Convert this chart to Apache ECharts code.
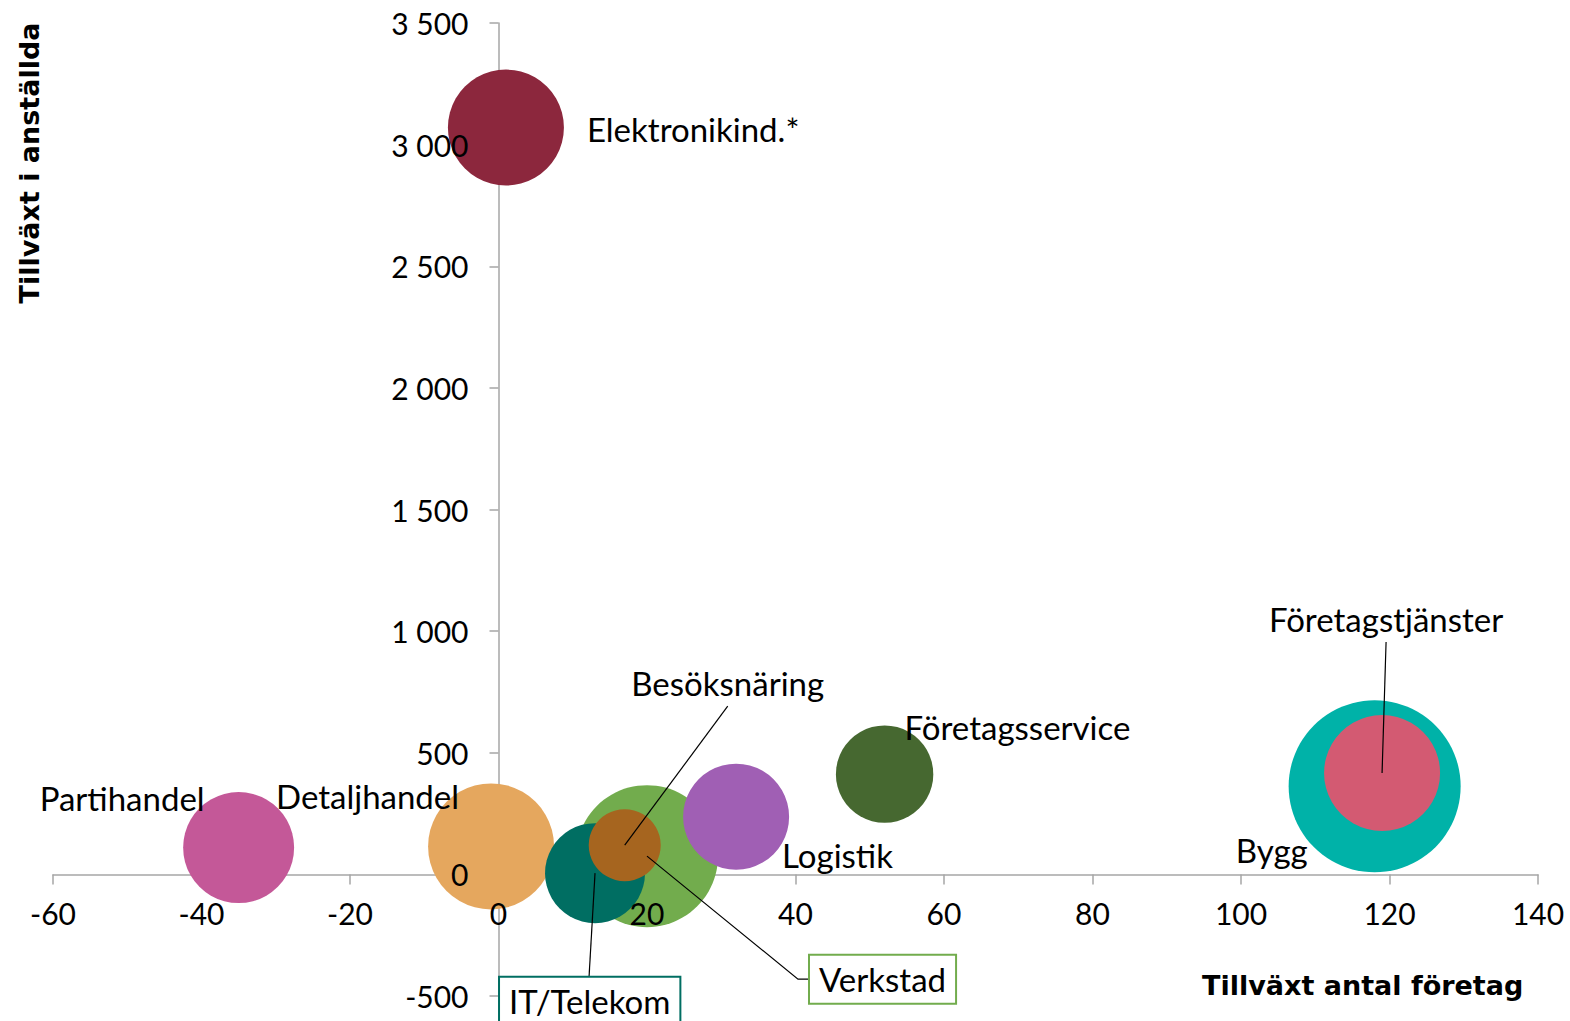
<!DOCTYPE html>
<html>
<head>
<meta charset="utf-8">
<script src="https://cdn.jsdelivr.net/npm/echarts@6/dist/echarts.min.js"></script>
<style>
html,body{margin:0;padding:0;background:#fff;}
#chart{width:1570px;height:1021px;}
</style>
</head>
<body>
<div id="chart"></div>
<script>
// ---- data ----
const names = ['Elektronikind.*','Partihandel','Detaljhandel','Verkstad','IT/Telekom','Besöksnäring','Logistik','Företagsservice','Bygg','Företagstjänster'];
const growthCompanies = [1, -35, -1, 20, 13, 17, 32, 52, 118, 119];
const growthEmployees = [3070, 110, 115, 75, 5, 120, 237, 412, 362, 417];
const bubbleSize = [3364, 3080, 3969, 5041, 2500, 1296, 2809, 2372, 7396, 3364];
const xTicks = [-60, -40, -20, 0, 20, 40, 60, 80, 100, 120, 140];
const yTicks = [-500, 0, 500, 1000, 1500, 2000, 2500, 3000, 3500];
const xTitle = 'Tillväxt antal företag';
const yTitle = 'Tillväxt i anställda';

// ---- styles / layout ----
const colors = ['#8C273D','#C45898','#E5A75E','#72AC4D','#006E62','#A6651F','#A05FB4','#466830','#00B2A8','#D35A72'];
const FONT = 'Lato';
const TITLE_FONT = 'DejaVu Sans';
const W = 1570, H = 1021;
const G = {left: 53, right: 32, top: 23, bottom: 25};
const labelLayout = {
  'Elektronikind.*': {dx: 81, dy: 1, align: 'left'},
  'Partihandel': {dx: -34, dy: -50, align: 'right'},
  'Detaljhandel': {dx: -32, dy: -50, align: 'right'},
  'Verkstad': {dx: 163, dy: 123, align: 'left', box: '#72AC4D', leader: [[151, 123], [163, 123]]},
  'IT/Telekom': {dx: -95, dy: 128, align: 'left', box: '#006E62', leader: [[-6, 104]]},
  'Besöksnäring': {dx: 103, dy: -162, align: 'center', leader: [[103, -139]]},
  'Logistik': {dx: 46, dy: 38, align: 'left'},
  'Företagsservice': {dx: 20, dy: -47, align: 'left'},
  'Bygg': {dx: -67, dy: 64, align: 'right'},
  'Företagstjänster': {dx: 4, dy: -154, align: 'center', leader: [[4, -131]]}
};

const fmt = v => {
  const s = String(Math.abs(v));
  const out = s.length > 3 ? s.slice(0, s.length - 3) + ' ' + s.slice(-3) : s;
  return (v < 0 ? '-' : '') + out;
};

const xMin = xTicks[0], xMax = xTicks[xTicks.length - 1];
const yMin = yTicks[0], yMax = yTicks[yTicks.length - 1];
const plotW = W - G.left - G.right, plotH = H - G.top - G.bottom;
// place axes through zero (labels follow the axis lines)
const xAxisOffset = -plotH * (0 - yMin) / (yMax - yMin);
const yAxisOffset = -plotW * (0 - xMin) / (xMax - xMin);

const chart = echarts.init(document.getElementById('chart'), null, {renderer: 'svg'});

const bubbleData = names.map((n, i) => ({
  name: n,
  value: [growthCompanies[i], growthEmployees[i], bubbleSize[i]],
  itemStyle: {color: colors[i]}
}));
const labelData = names.map((n, i) => [growthCompanies[i], growthEmployees[i]]);

function renderLabel(params, api) {
  const i = params.dataIndex;
  const c = api.coord([api.value(0), api.value(1)]);
  const L = labelLayout[names[i]];
  const children = [];
  if (L.leader) {
    const pts = [[c[0], c[1]]].concat(L.leader.map(p => [c[0] + p[0], c[1] + p[1]]));
    children.push({type: 'polyline', shape: {points: pts}, style: {stroke: '#000', lineWidth: 1.2, fill: null}});
  }
  const st = {
    text: names[i], fontSize: 33, fontFamily: FONT, fill: '#000',
    align: L.align, verticalAlign: 'middle'
  };
  if (L.box) {
    st.borderColor = L.box; st.borderWidth = 2; st.backgroundColor = '#fff';
    st.padding = [7, 9, 7, 9];
  }
  children.push({type: 'text', x: c[0] + L.dx, y: c[1] + L.dy, style: st});
  return {type: 'group', children};
}

const axisColor = '#A6A6A6';
const xBase = {
  type: 'value', min: xMin, max: xMax, interval: 20, position: 'bottom',
  offset: xAxisOffset, splitLine: {show: false}
};
const yBase = {
  type: 'value', min: yMin, max: yMax, interval: 500, position: 'left',
  offset: yAxisOffset, splitLine: {show: false}
};
chart.setOption({
  animation: false,
  backgroundColor: '#fff',
  grid: {left: G.left, right: G.right, top: G.top, bottom: G.bottom, containLabel: false, outerBoundsMode: 'none'},
  xAxis: [
    Object.assign({}, xBase, {
      z: 0,
      axisLine: {onZero: false, lineStyle: {color: axisColor, width: 1.5}},
      axisTick: {show: true, length: 10, lineStyle: {color: axisColor, width: 1.5}},
      axisLabel: {show: false}
    }),
    Object.assign({}, xBase, {
      z: 10,
      axisLine: {show: false, onZero: false},
      axisTick: {show: false},
      axisLabel: {color: '#000', fontSize: 30, fontFamily: FONT, margin: 24}
    })
  ],
  yAxis: [
    Object.assign({}, yBase, {
      z: 0,
      axisLine: {onZero: false, lineStyle: {color: axisColor, width: 1.5}},
      axisTick: {show: true, length: 9, lineStyle: {color: axisColor, width: 1.5}},
      axisLabel: {show: false}
    }),
    Object.assign({}, yBase, {
      z: 10,
      axisLine: {show: false, onZero: false},
      axisTick: {show: false},
      axisLabel: {color: '#000', fontSize: 30, fontFamily: FONT, margin: 30, formatter: fmt}
    })
  ],
  graphic: [
    {type: 'text', x: 29, y: 163, rotation: Math.PI / 2,
     style: {text: yTitle, fontSize: 27, fontWeight: 'bold', fontFamily: TITLE_FONT, fill: '#000', align: 'center', verticalAlign: 'middle'}},
    {type: 'text', x: 1202, y: 985,
     style: {text: xTitle, fontSize: 27, fontWeight: 'bold', fontFamily: TITLE_FONT, fill: '#000', align: 'left', verticalAlign: 'middle'}}
  ],
  series: [
    {
      type: 'scatter',
      xAxisIndex: 0, yAxisIndex: 0,
      data: bubbleData,
      symbolSize: v => 2 * Math.sqrt(v[2]),
      itemStyle: {opacity: 1},
      emphasis: {disabled: true},
      z: 2
    },
    {
      type: 'custom',
      xAxisIndex: 0, yAxisIndex: 0,
      data: labelData,
      renderItem: renderLabel,
      clip: false,
      silent: true,
      z: 5
    }
  ]
});
</script>
</body>
</html>
